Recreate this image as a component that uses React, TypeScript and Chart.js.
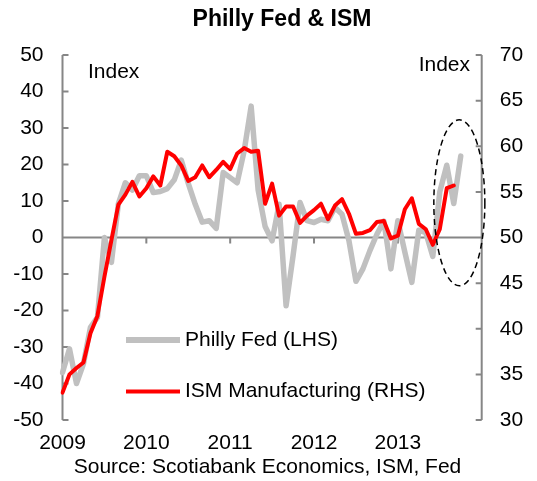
import React, { useEffect, useRef } from 'react';
import { Chart, registerables } from 'chart.js';

Chart.register(...registerables);

// ---- data ----
const START_YEAR = 2008;
const START_MONTH = 12; // first category: Dec 2008
const MONTH_COUNT = 61; // Dec 2008 .. Dec 2013
const yearLabels = ['2009', '2010', '2011', '2012', '2013'];

const phillyFed = [
  -37, -30.5, -40, -34.6, -24.6, -21.9, 0, -6.8, 9.3, 15, 13, 16.9,
  16.9, 12.3, 12.6, 13.4, 15.8, 21.2, 14.8, 9.1, 4.2, 4.6, 2.5, 17.8,
  16.4, 15, 23.7, 36, 13, 3, -0.9, 9.1, -18.7, -5, 9.6, 4.6,
  4.1, 5, 4.6, 8.2, 6.4, -0.9, -12, -8.6, -3.6, 0.9, 4.5, -8.6,
  4.6, -4, -12.3, 2, 1.3, -5.2, 12.5, 19.8, 9.3, 22.3,
];

const ismManufacturing = [
  33.0, 35.0, 35.7, 36.3, 39.5, 41.4, 45.7, 49.7, 53.6, 54.7, 56.1, 54.5,
  55.4, 56.7, 55.7, 59.4, 58.9, 57.9, 56.2, 56.6, 57.9, 56.6, 57.4, 58.3,
  57.5, 59.2, 59.8, 59.4, 59.5, 53.7, 55.9, 52.4, 53.4, 53.4, 51.6, 52.4,
  53.0, 53.7, 52.0, 53.5, 54.2, 52.6, 50.4, 50.5, 50.8, 51.7, 51.8, 49.9,
  50.2, 53.1, 54.3, 51.5, 50.9, 49.2, 50.9, 55.4, 55.7,
];

const leftAxis = { min: -50, max: 50, step: 10 };
const rightAxis = { min: 30, max: 70, step: 5 };

const titleText = 'Philly Fed & ISM';
const sourceText = 'Source: Scotiabank Economics, ISM, Fed';
const phillyLabel = 'Philly Fed (LHS)';
const ismLabel = 'ISM Manufacturing (RHS)';
const unitLabel = 'Index';

const categories = Array.from({ length: MONTH_COUNT }, (_, i) => {
  const k = START_MONTH - 1 + i;
  const y = START_YEAR + Math.floor(k / 12);
  const m = (k % 12) + 1;
  return `${y}-${String(m).padStart(2, '0')}`;
});

const FONT = '"Liberation Sans", Arial, sans-serif';
const GRAY = '#c0c0c0';
const RED = '#ff0000';
const AXIS = '#868686';

const decorPlugin = {
  id: 'decor',
  beforeDatasetsDraw(chart: any) {
    const { ctx, chartArea: a, scales } = chart;
    const x = scales.x, y = scales.y, y1 = scales.y1;
    ctx.save();
    ctx.strokeStyle = AXIS;
    ctx.lineWidth = 2;
    ctx.beginPath();
    // left axis
    ctx.moveTo(a.left, a.top);
    ctx.lineTo(a.left, a.bottom);
    for (let v = leftAxis.min; v <= leftAxis.max; v += leftAxis.step) {
      const py = y.getPixelForValue(v);
      ctx.moveTo(a.left, py);
      ctx.lineTo(a.left + 6, py);
    }
    // right axis
    ctx.moveTo(a.right, a.top);
    ctx.lineTo(a.right, a.bottom);
    for (let v = rightAxis.min; v <= rightAxis.max; v += rightAxis.step) {
      const py = y1.getPixelForValue(v);
      ctx.moveTo(a.right, py);
      ctx.lineTo(a.right - 6, py);
    }
    // horizontal axis at zero
    const z = y.getPixelForValue(0);
    ctx.moveTo(a.left, z);
    ctx.lineTo(a.right, z);
    for (let i = 12; i < MONTH_COUNT - 1; i += 12) {
      const px = x.getPixelForValue(i);
      ctx.moveTo(px, z);
      ctx.lineTo(px, z + 6);
    }
    ctx.stroke();
    ctx.restore();
  },
  afterDatasetsDraw(chart: any) {
    const { ctx, scales } = chart;
    const cx = scales.x.getPixelForValue(56.8);
    const cy = scales.y.getPixelForValue(9.5);
    ctx.save();
    ctx.strokeStyle = '#000';
    ctx.lineWidth = 1.5;
    ctx.setLineDash([6, 4]);
    ctx.beginPath();
    ctx.ellipse(cx, cy, 25.5, 83, 0, 0, Math.PI * 2);
    ctx.stroke();
    ctx.restore();
  },
  afterDraw(chart: any) {
    const { ctx } = chart;
    ctx.save();
    ctx.fillStyle = '#000';
    // title
    ctx.font = `bold 23px ${FONT}`;
    ctx.textAlign = 'center';
    ctx.textBaseline = 'middle';
    ctx.fillText(titleText, 282, 20);
    // unit labels
    ctx.font = `21px ${FONT}`;
    ctx.textBaseline = 'alphabetic';
    ctx.textAlign = 'left';
    ctx.fillText(unitLabel, 88, 78);
    ctx.textAlign = 'right';
    ctx.fillText(unitLabel, 470, 71);
    // legend
    ctx.lineCap = 'butt';
    ctx.strokeStyle = GRAY;
    ctx.lineWidth = 6;
    ctx.beginPath();
    ctx.moveTo(126, 340);
    ctx.lineTo(180, 340);
    ctx.stroke();
    ctx.strokeStyle = RED;
    ctx.lineWidth = 4;
    ctx.beginPath();
    ctx.moveTo(126, 391.5);
    ctx.lineTo(180, 391.5);
    ctx.stroke();
    ctx.textAlign = 'left';
    ctx.textBaseline = 'middle';
    ctx.fillText(phillyLabel, 185, 340);
    ctx.fillText(ismLabel, 185, 391);
    // source
    ctx.textAlign = 'center';
    ctx.fillText(sourceText, 267.5, 467);
    ctx.restore();
  },
};

export default function App() {
  const canvasRef = useRef<HTMLCanvasElement | null>(null);

  useEffect(() => {
    const canvas = canvasRef.current;
    if (!canvas) return;
    const chart = new Chart(canvas, {
      type: 'line',
      data: {
        labels: categories,
        datasets: [
          {
            label: ismLabel,
            data: ismManufacturing,
            yAxisID: 'y1',
            borderColor: RED,
            backgroundColor: RED,
            borderWidth: 4,
            pointRadius: 0,
            tension: 0,
            borderJoinStyle: 'round',
            borderCapStyle: 'round',
            order: 0,
          },
          {
            label: phillyLabel,
            data: phillyFed,
            yAxisID: 'y',
            borderColor: GRAY,
            backgroundColor: GRAY,
            borderWidth: 5.5,
            pointRadius: 0,
            tension: 0,
            borderJoinStyle: 'round',
            borderCapStyle: 'round',
            order: 1,
          },
        ],
      },
      options: {
        responsive: false,
        animation: false,
        devicePixelRatio: 1,
        layout: { padding: { top: 55, left: 0, right: 0, bottom: 0 } },
        plugins: {
          legend: { display: false },
          title: { display: false },
          tooltip: { enabled: false },
        },
        scales: {
          x: {
            type: 'category',
            offset: false,
            grid: { display: false, drawTicks: false },
            border: { display: false },
            ticks: {
              autoSkip: false,
              maxRotation: 0,
              minRotation: 0,
              padding: 11,
              color: '#000',
              font: { family: FONT, size: 21 },
              callback: (_v: any, i: number) =>
                i % 12 === 0 && i / 12 < yearLabels.length ? yearLabels[i / 12] : '',
            },
            afterFit: (s: any) => {
              s.height = 61;
            },
          },
          y: {
            position: 'left',
            min: leftAxis.min,
            max: leftAxis.max,
            grid: { display: false, drawTicks: false },
            border: { display: false },
            ticks: {
              stepSize: leftAxis.step,
              padding: 19,
              color: '#000',
              font: { family: FONT, size: 21 },
            },
            afterFit: (s: any) => {
              s.width = 62.5;
            },
          },
          y1: {
            position: 'right',
            min: rightAxis.min,
            max: rightAxis.max,
            grid: { display: false, drawTicks: false },
            border: { display: false },
            ticks: {
              stepSize: rightAxis.step,
              padding: 18,
              color: '#000',
              font: { family: FONT, size: 21 },
            },
            afterFit: (s: any) => {
              s.width = 55.3;
            },
          },
        },
      },
      plugins: [decorPlugin],
    });
    return () => chart.destroy();
  }, []);

  return (
    <canvas
      ref={canvasRef}
      width={537}
      height={481}
      style={{ position: 'absolute', left: 0, top: 0, width: 537, height: 481 }}
    />
  );
}
